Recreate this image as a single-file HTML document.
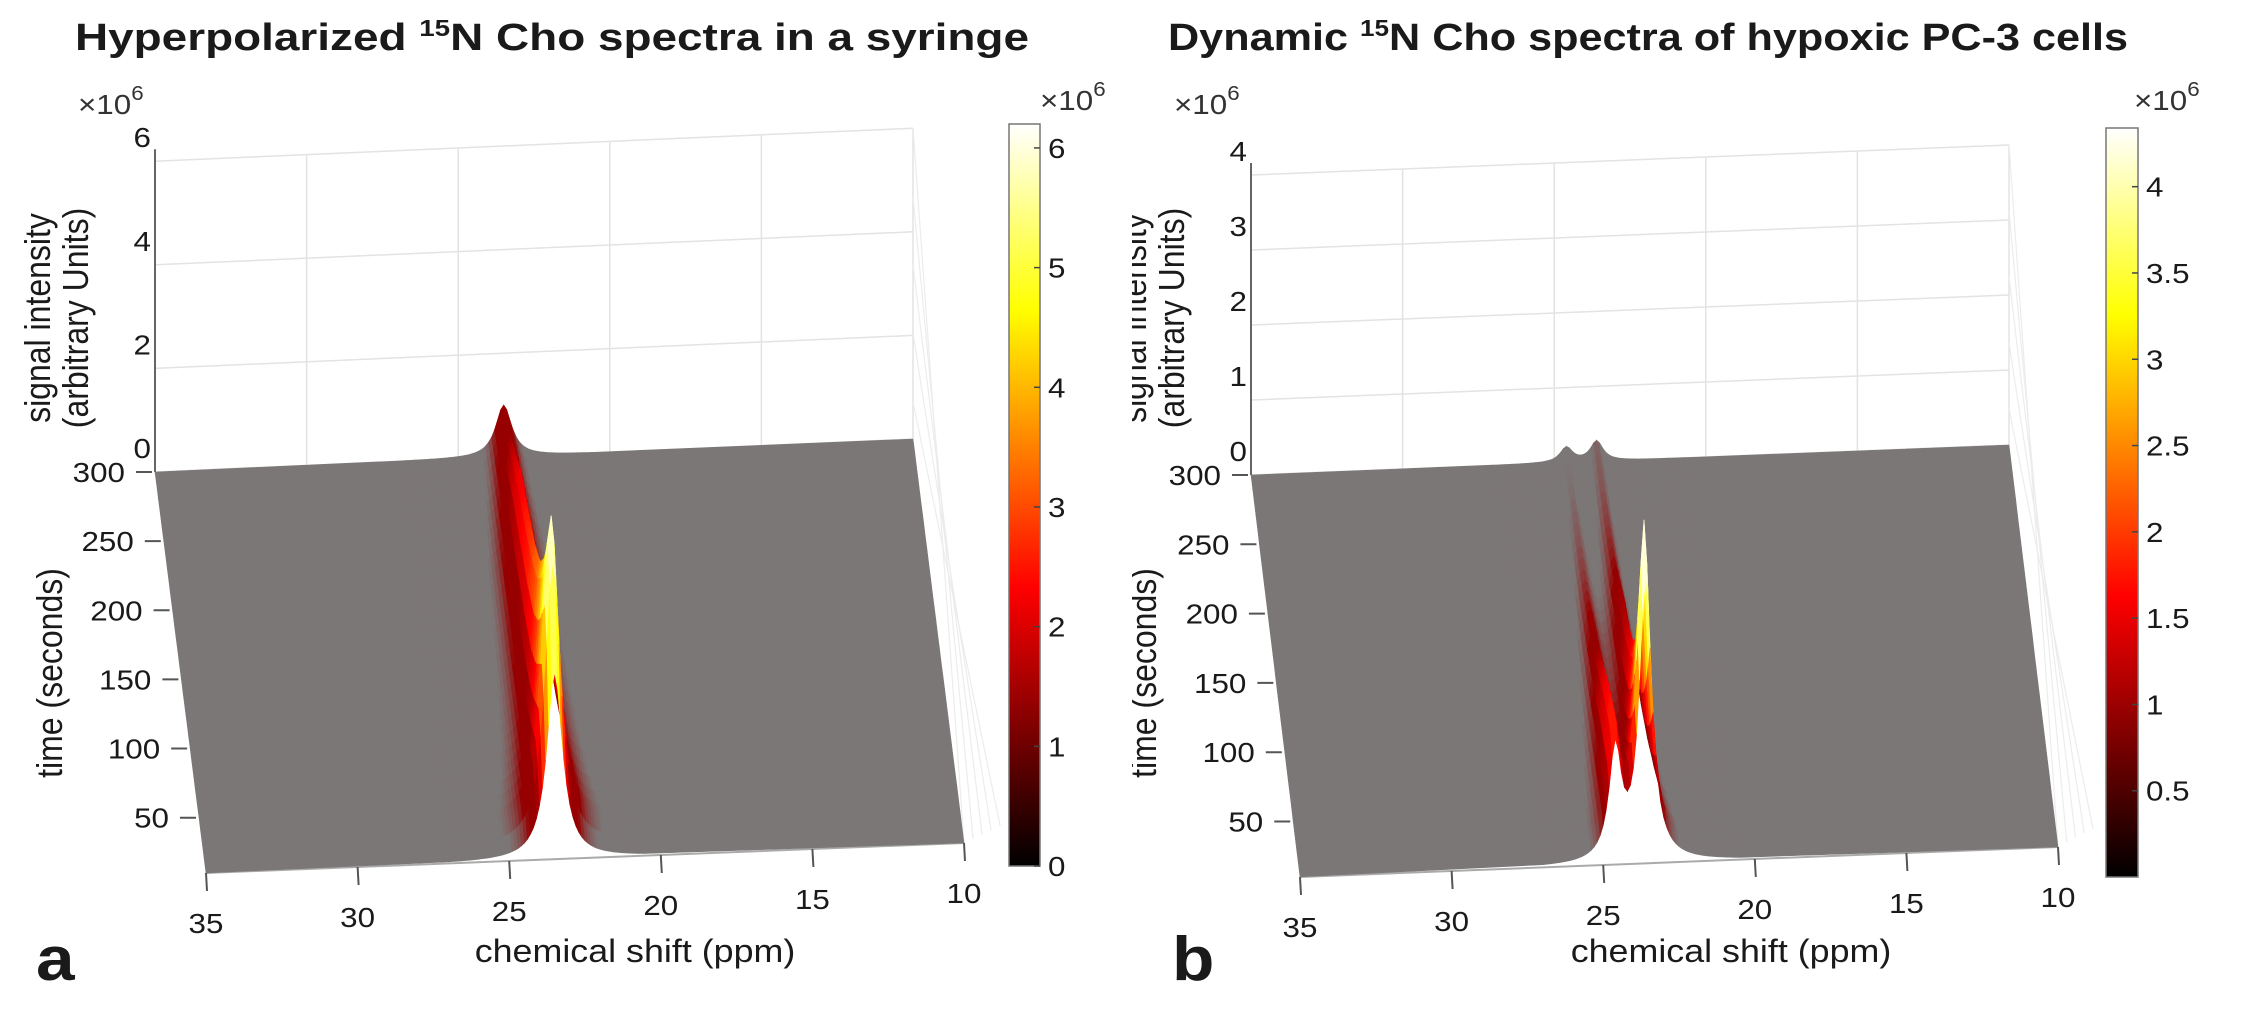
<!DOCTYPE html>
<html><head><meta charset="utf-8"><style>
html,body{margin:0;padding:0;background:#fff;}
svg{display:block;font-family:"Liberation Sans",Arial,sans-serif;}
</style></head><body>
<svg id="fig" width="2264" height="1016" viewBox="0 0 2264 1016" xmlns="http://www.w3.org/2000/svg">
<defs>
<linearGradient id="hotA" x1="0" y1="1" x2="0" y2="0">
<stop offset="0" stop-color="#000"/><stop offset="0.375" stop-color="#f00"/><stop offset="0.75" stop-color="#ff0"/><stop offset="1" stop-color="#fff"/>
</linearGradient>
<clipPath id="clipB"><rect x="1132" y="0" width="1132" height="1016"/></clipPath>
</defs>
<g id="panelA"></g>
<g id="panelB" clip-path="url(#clipB)"></g>
</svg>
<script>
// ---- data ----
const times = [10,20,30,40,50,60,70,80,90,100,110,120,130,140,150,160,170,180,190,200,210,220,230,240,250,260,270,280,290,300];
const ampA  = [3.6,5.4,6.1,5.6,5.1,4.6,4.2,3.9,3.6,3.4,3.25,3.1,2.95,2.85,2.75,2.65,2.55,2.45,2.35,2.3,2.2,2.05,1.9,1.75,1.6,1.45,1.3,1.2,1.1,1.0];
const ampB1 = [1.45,1.6,1.6,1.55,1.5,1.45,1.35,1.25,1.15,1.05,0.95,0.85,0.78,0.7,0.64,0.58,0.52,0.47,0.43,0.39,0.36,0.33,0.3,0.28,0.26,0.24,0.22,0.21,0.2,0.2];
const ampB2 = [3.8,4.3,3.6,3.0,2.5,2.1,1.8,1.6,1.45,1.35,1.25,1.15,1.1,1.05,1.0,0.9,0.8,0.7,0.62,0.55,0.5,0.46,0.42,0.39,0.36,0.33,0.31,0.3,0.28,0.27];
const peakPpmA = [23.5];
const peakPpmB = [24.6, 23.6];
const xTicks = [35,30,25,20,15,10];
const tTicks = [300,250,200,150,100,50];
const zTicksA = [0,2,4,6];
const zTicksB = [0,1,2,3,4];
const cbTicksA = [0,1,2,3,4,5,6];
const cbTicksB = [0.5,1,1.5,2,2.5,3,3.5,4];

const NS = "http://www.w3.org/2000/svg";
const SX = 1.12;
function mk(parent, tag, attrs){const e=document.createElementNS(NS,tag);for(const k in attrs)e.setAttribute(k,attrs[k]);parent.appendChild(e);return e;}
function txt(parent, x, y, s, size, opts){
  opts=opts||{};
  const t=mk(parent,'text',{x:0,y:0,'font-size':size,fill:'#1a1a1a','text-anchor':opts.anchor||'start',
    transform:(opts.rot?`translate(${x},${y}) rotate(-90) scale(1,${SX})`:`translate(${x},${y}) scale(${SX},1)`)});
  if(opts.bold)t.setAttribute('font-weight','bold');
  t.textContent=s;return t;
}
function hot(f){f=Math.max(0,Math.min(1,f));
  const r=Math.min(1,f/0.375),g=Math.max(0,Math.min(1,(f-0.375)/0.375)),b=Math.max(0,Math.min(1,(f-0.75)/0.25));return [r*255,g*255,b*255];}

function panel(g, P){
  const proj=(ppm,t,h)=>{const u=(35-ppm)/25,v=(300-t)/290;
    const bx=P.BL[0]+(P.BR[0]-P.BL[0])*u, by=P.BL[1]+(P.BR[1]-P.BL[1])*u;
    const fx=P.FL[0]+(P.FR[0]-P.FL[0])*u, fy=P.FL[1]+(P.FR[1]-P.FL[1])*u;
    return [bx+(fx-bx)*v, by+(fy-by)*v - h*P.zs];};
  const wall=mk(g,'g',{});
  
  
  P.zTicks.forEach(z=>{const a=proj(35,300,z),b=proj(10,300,z);
    const l=mk(wall,'line',{x1:a[0],y1:a[1],x2:b[0],y2:b[1],stroke:'#e3e3e3','stroke-width':1.5});
    });
  xTicks.forEach(p=>{const a=proj(p,300,0),b=proj(p,300,P.zmax);
    const l=mk(wall,'line',{x1:a[0],y1:a[1],x2:b[0],y2:b[1],stroke:'#e3e3e3','stroke-width':1.5});
    });
  for(let k=0;k<5;k++){const a=proj(10,300,P.zmax*(1-k*0.22)),b=proj(10,10-k*40,0);
    mk(wall,'line',{x1:a[0],y1:a[1],x2:b[0]+k*2,y2:b[1]-k*60,stroke:'#ececec','stroke-width':1.2});}
  const za=proj(35,300,0),zb=proj(35,300,P.zmax);
  const zl=mk(g,'line',{x1:za[0],y1:za[1],x2:zb[0],y2:zb[1]-12,stroke:'#666','stroke-width':2});
  
  P.zTicks.forEach(z=>{const p=proj(35,300,z);const t=txt(g,p[0]-4,p[1]-14,String(z),28,{anchor:'end'});
    });
  const f0=proj(35,10,0),f1=proj(10,10,0);
  mk(g,'line',{x1:f0[0],y1:f0[1],x2:f1[0],y2:f1[1],stroke:'#aaa','stroke-width':2});
  const surf=mk(g,'g',{});
  
  
  const cols=[35];for(let p=27;p>=20.45;p-=0.1)cols.push(+p.toFixed(2));cols.push(10);
  const H=(i,ppm)=>{let s=0;P.peaks.forEach((pk,k)=>{const w=P.w;const d=ppm-pk;s+=P.amps[k][i]*w*w/(w*w+d*d);});return s;};
  const gray=[124,119,119];
  for(let i=times.length-1;i>0;i--){
    const ta=times[i],tb=times[i-1];
    for(let j=0;j<cols.length-1;j++){
      const c0=cols[j],c1=cols[j+1];
      const h00=H(i,c0),h01=H(i,c1),h10=H(i-1,c0),h11=H(i-1,c1);
      const p=[proj(c0,ta,h00),proj(c1,ta,h01),proj(c1,tb,h11),proj(c0,tb,h10)];
      const hm=(h00+h01+h10+h11)/4, hx=Math.max(h00,h01,h10,h11);
      const k=Math.max(0,Math.min(1,(hm-0.2)/0.4));
      const hc=hot(Math.max(0.22,hx/P.cmax*0.95));
      const col=gray.map((v,q)=>Math.round(v*(1-k)+hc[q]*k));
      const cs=`rgb(${col[0]},${col[1]},${col[2]})`;
      mk(surf,'polygon',{points:p.map(a=>a[0].toFixed(1)+','+a[1].toFixed(1)).join(' '),fill:cs,stroke:cs,'stroke-width':0.6});
    }
  }
  tTicks.forEach(t=>{const p=proj(35,t,0);
    const l=mk(g,'line',{x1:p[0]-19,y1:p[1],x2:p[0]-3,y2:p[1],stroke:'#555','stroke-width':2});
    
    const tx=txt(g,p[0]-30,p[1]+10,String(t),28,{anchor:'end'});
    });
  xTicks.forEach(x=>{const p=proj(x,10,0);
    const l=mk(g,'line',{x1:p[0],y1:p[1],x2:p[0]+1,y2:p[1]+18,stroke:'#555','stroke-width':2});
    
    const tx=txt(g,p[0],p[1]+60,String(x),28,{anchor:'middle'});
    });
  const cb=P.cb;
  const r=mk(g,'rect',{x:cb.x,y:cb.y0,width:cb.w,height:cb.y1-cb.y0,fill:'url(#hotA)',stroke:'#777','stroke-width':1.5});
  
  P.cbTicks.forEach(v=>{const y=cb.y1-(v/P.cmax)*(cb.y1-cb.y0);
    mk(g,'line',{x1:cb.x+cb.w-6,y1:y,x2:cb.x+cb.w,y2:y,stroke:'#444','stroke-width':1.5});
    const tx=txt(g,cb.x+cb.w+8,y+10,String(v),28);
    });
}

const A=document.getElementById('panelA'), B=document.getElementById('panelB');
panel(A,{BL:[155,472],BR:[913,439],FL:[206,873],FR:[964,843],zs:51.8,zmax:6,zTicks:zTicksA,
  peaks:peakPpmA,amps:[ampA],w:0.32,cmax:6.2,cbTicks:cbTicksA,cb:{x:1009,w:31,y0:124,y1:866}});
panel(B,{BL:[1251,475],BR:[2009,445],FL:[1300,877],FR:[2058,847],zs:75,zmax:4,zTicks:zTicksB,
  peaks:peakPpmB,amps:[ampB1,ampB2],w:0.25,cmax:4.34,cbTicks:cbTicksB,cb:{x:2106,w:32,y0:128,y1:877}});

function sci(g,x,y){const t=mk(g,'text',{x:0,y:0,'font-size':28,fill:'#333',transform:`translate(${x},${y}) scale(${SX},1)`});
  
  t.appendChild(document.createTextNode('×10'));
  const s=mk(t,'tspan',{dy:-14,'font-size':20});s.textContent='6';}
function labels(g,o){
  const t1=txt(g,o.tx,50,'',38,{bold:true});t1.setAttribute('textLength',o.tl/SX);t1.setAttribute('lengthAdjust','spacingAndGlyphs');
  t1.appendChild(document.createTextNode(o.t1));
  const sup=mk(t1,'tspan',{dy:-14,'font-size':23});sup.textContent='15';
  const rest=mk(t1,'tspan',{dy:14});rest.textContent=o.t2;
  
  sci(g,o.ax,114);sci(g,o.cx,110);
  let t=txt(g,o.sx,318,'signal intensity',32,{rot:true,anchor:'middle'});
  t=txt(g,o.sx+38,318,'(arbitrary Units)',32,{rot:true,anchor:'middle'});
  t=txt(g,o.tsx,673,'time (seconds)',32,{rot:true,anchor:'middle'});
  t=txt(g,o.xx,962,'chemical shift (ppm)',32,{anchor:'middle'});
  t=txt(g,o.lx,980,o.letter,62,{bold:true});
}
labels(A,{tx:75,tl:954,t1:'Hyperpolarized ',t2:'N Cho spectra in a syringe',ax:78,cx:1040,sx:50,tsx:62,xx:635,lx:36,letter:'a'});
labels(B,{tx:1168,tl:960,t1:'Dynamic ',t2:'N Cho spectra of hypoxic PC-3 cells',ax:1174,cx:2134,sx:1146,tsx:1156,xx:1731,lx:1172,letter:'b'});
</script>
</body></html>
